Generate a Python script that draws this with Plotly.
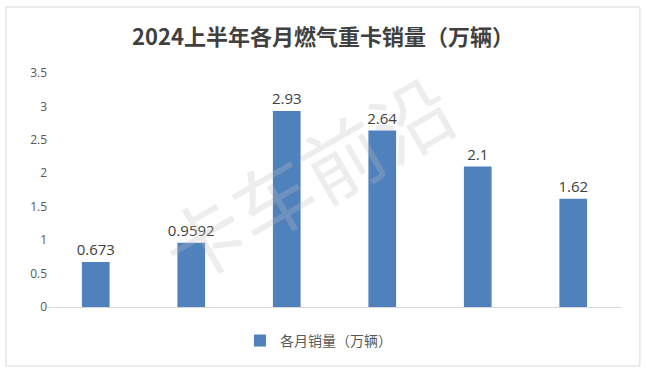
import plotly.graph_objects as go

months = ["1月", "2月", "3月", "4月", "5月", "6月"]
sales = [0.673, 0.9592, 2.93, 2.64, 2.1, 1.62]
labels = ["0.673", "0.9592", "2.93", "2.64", "2.1", "1.62"]
tick_vals = [0, 0.5, 1, 1.5, 2, 2.5, 3, 3.5]
tick_text = ["0", "0.5", "1", "1.5", "2", "2.5", "3", "3.5"]

font_cjk = "Noto Sans CJK SC, Noto Sans, sans-serif"

fig = go.Figure()
fig.add_trace(go.Bar(
    x=months, y=sales, text=labels, textposition="outside", constraintext="none",
    textfont=dict(size=15, color="#404040", family="Open Sans, Noto Sans CJK SC"),
    marker=dict(color="#4f81bd", line=dict(width=0)),
    width=0.29, name="各月销量（万辆）", showlegend=True, cliponaxis=False,
))

fig.update_layout(
    width=646, height=371,
    paper_bgcolor="white", plot_bgcolor="white",
    margin=dict(l=48, r=25, t=73, b=64, autoexpand=False),
    title=dict(text="<b>2024上半年各月燃气重卡销量（万辆）</b>", x=0.5, xanchor="center",
               y=1 - 37 / 371, yanchor="middle", yref="container", automargin=False,
               font=dict(size=22, color="#404040", family=font_cjk)),
    xaxis=dict(showticklabels=False, showgrid=False, showline=True, linecolor="#d9d9d9",
               linewidth=1, ticks="", zeroline=False),
    yaxis=dict(range=[0, 3.5], tickvals=tick_vals, ticktext=tick_text, showgrid=False,
               showline=False, zeroline=False, ticks="",
               tickfont=dict(size=12, color="#595959", family="Open Sans, sans-serif")),
    legend=dict(orientation="h", x=0.472, xanchor="center", y=-0.145, yanchor="middle",
                itemwidth=30,
                font=dict(size=14, color="#595959", family=font_cjk)),
    font=dict(family=font_cjk),
    shapes=[dict(type="rect", xref="paper", yref="paper", x0=-0.0733, x1=1.033, y0=-0.252, y1=1.282,
                 line=dict(color="#d9d9d9", width=1), fillcolor="rgba(0,0,0,0)", layer="below")],
    annotations=[dict(text="卡车前沿", x=0.45, y=0.56, xref="paper", yref="paper", showarrow=False,
                      textangle=-30, font=dict(size=80, color="rgba(190,190,190,0.28)", family=font_cjk))],
)

fig.write_html("out.html", post_script="document.body.style.margin='0';",
               config={"displayModeBar": False})
